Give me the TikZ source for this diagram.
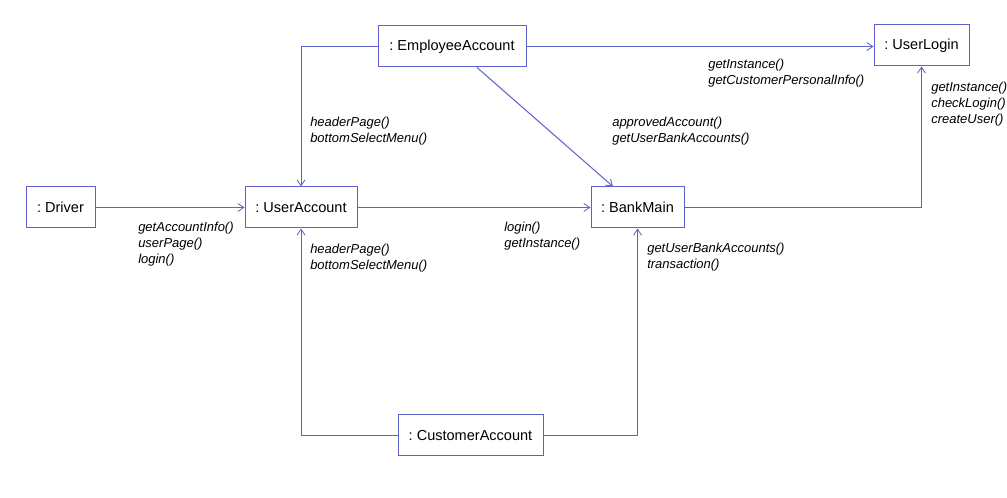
\documentclass[tikz,border=0pt]{standalone}
\usepackage{fontspec}
\setmainfont{Liberation Sans}
\usetikzlibrary{arrows.meta}
\definecolor{uml}{RGB}{95,95,205}
\begin{document}
\frenchspacing
\begin{tikzpicture}[x=0.75pt,y=-0.75pt,
  obj/.style={draw=uml,line width=0.75pt,inner sep=0pt,minimum width=#1,minimum height=30.75pt,
    font=\fontsize{10.9}{13}\selectfont},
  conn/.style={draw=uml,line width=0.75pt,-{Straight Barb[length=4.5pt,width=6pt,line width=0.6pt]}},
  msg/.style={anchor=north west,inner sep=0pt,align=left,font=\fontsize{9.75}{11.8}\selectfont\itshape}]
\useasboundingbox (0,0) rectangle (1007,498);
\fill[white] (0,0) rectangle (1007,498);

\node[obj=51.75pt]  (drv) at (60.5,207.5)  {: Driver};
\node[obj=84pt]     (ua)  at (301,207.5)   {: UserAccount};
\node[obj=111pt]    (ea)  at (452,46.5)    {: EmployeeAccount};
\node[obj=71.25pt]  (ul)  at (921.5,45.5)  {: UserLogin};
\node[obj=69.75pt]  (bm)  at (637.5,207.5) {: BankMain};
\node[obj=108.75pt] (ca)  at (470.5,435.5) {: CustomerAccount};

\draw[conn] (drv) -- (ua);
\draw[conn] (ea.west) -| (ua.north);
\draw[conn] (ea.east) -- (ea.east -| ul.west);
\draw[conn] ([xshift=18.75pt]ea.south) -- ([xshift=-18.4pt]bm.north);
\draw[conn] (ua) -- (bm);
\draw[conn] (bm.east) -| (ul.south);
\draw[conn] (ca.west) -| (ua.south);
\draw[conn] (ca.east) -| (bm.south);

\node[msg] (m1) at (138,222) {getAccountInfo()\\userPage()\\login()};
\node[msg] (m2) at (310,117) {headerPage()\\bottomSelectMenu()};
\node[msg] (m3) at (310,244) {headerPage()\\bottomSelectMenu()};
\node[msg] (m4) at (504,222) {login()\\getInstance()};
\node[msg] (m5) at (612,117) {approvedAccount()\\getUserBankAccounts()};
\node[msg] (m6) at (708,59)  {getInstance()\\getCustomerPersonalInfo()};
\node[msg] (m7) at (931,82)  {getInstance()\\checkLogin()\\createUser()};
\node[msg] (m8) at (647,243) {getUserBankAccounts()\\transaction()};
\end{tikzpicture}
\end{document}
